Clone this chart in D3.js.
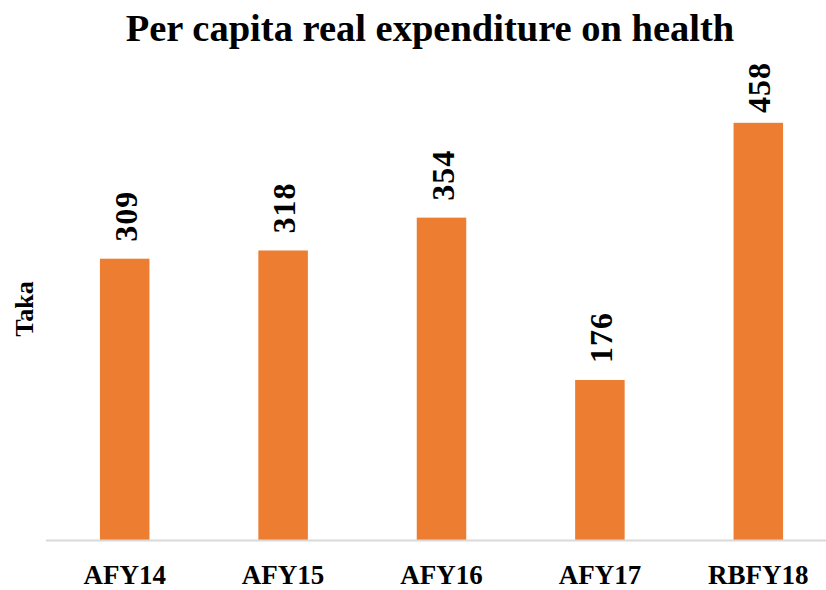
<!DOCTYPE html>
<html>
<head>
<meta charset="utf-8">
<script src="https://cdn.jsdelivr.net/npm/d3@7"></script>
<style>
  body { margin: 0; background: #fff; }
  svg text { font-family: "Liberation Serif", "Times New Roman", serif; font-weight: bold; fill: #000; }
</style>
</head>
<body>
<div id="chart"></div>
<script>
// data
const categories = ['AFY14', 'AFY15', 'AFY16', 'AFY17', 'RBFY18'];
const values = [309, 318, 354, 176, 458];
const yTitle = 'Taka';
const chartTitle = 'Per capita real expenditure on health';

const width = 826, height = 590;
const baseY = 540.5;

const svg = d3.select('#chart').append('svg')
    .attr('width', width).attr('height', height);

const x = d3.scaleBand()
  .domain(categories)
  .range([45.5, 837.5])
  .paddingInner(0.6875)
  .paddingOuter(0.34375);

const y = d3.scaleLinear()
  .domain([0, 500])
  .range([baseY, 84.5]);

const data = categories.map((c, i) => ({ cat: c, value: values[i] }));

// bars
svg.selectAll('rect.bar')
  .data(data)
  .join('rect')
    .attr('class', 'bar')
    .attr('x', d => x(d.cat))
    .attr('y', d => y(d.value))
    .attr('width', x.bandwidth())
    .attr('height', d => baseY - y(d.value))
    .attr('fill', '#ED7D31');

// baseline
svg.append('line')
  .attr('x1', 46).attr('x2', width)
  .attr('y1', baseY).attr('y2', baseY)
  .attr('stroke', '#D9D9D9').attr('stroke-width', 2);

// value labels (rotated), kept inside the chart area
svg.selectAll('text.val')
  .data(data)
  .join('text')
    .attr('class', 'val')
    .attr('transform', d => {
      const cx = x(d.cat) + x.bandwidth() / 2 + 12;
      const cy = Math.max(y(d.value) - 17, 113);
      return `translate(${cx},${cy}) rotate(-90)`;
    })
    .attr('font-size', 32)
    .attr('letter-spacing', 1)
    .text(d => d.value);

// category labels
svg.selectAll('text.cat')
  .data(categories)
  .join('text')
    .attr('class', 'cat')
    .attr('x', d => x(d) + x.bandwidth() / 2)
    .attr('y', 584)
    .attr('text-anchor', 'middle')
    .attr('font-size', 27)
    .text(d => d);

// axis title
svg.append('text')
  .attr('transform', 'translate(33,309) rotate(-90)')
  .attr('text-anchor', 'middle')
  .attr('font-size', 26)
  .text(yTitle);

// chart title
svg.append('text')
  .attr('x', 430).attr('y', 41)
  .attr('text-anchor', 'middle')
  .attr('font-size', 38.5)
  .text(chartTitle);
</script>
</body>
</html>
